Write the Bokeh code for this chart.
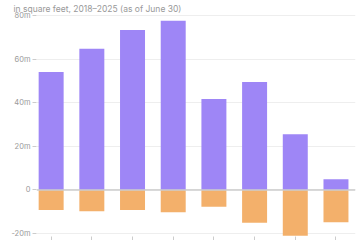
from bokeh.plotting import figure
from bokeh.models import Range1d, FixedTicker, Span, ColumnDataSource
from bokeh.embed import file_html
from bokeh.resources import INLINE

years = ["2018", "2019", "2020", "2021", "2022", "2023", "2024", "2025"]
completions = [54.1, 64.7, 73.3, 77.6, 41.7, 49.5, 25.5, 4.9]
demolitions = [-9.2, -9.8, -9.2, -10.2, -7.7, -15.0, -21.0, -14.8]
ytick_vals = [-20, 0, 20, 40, 60, 80]
ytick_labels = ["-20m", "0", "20m", "40m", "60m", "80m"]
subtitle = "in square feet, 2018\u20132025 (as of June 30)"

idx = list(range(len(years)))
src = ColumnDataSource(dict(x=idx, year=years, pos=completions, neg=demolitions))

p = figure(width=364, height=240, output_backend="svg", toolbar_location=None,
           title=subtitle,
           x_range=Range1d(-0.36, 7.48), y_range=Range1d(-21.36, 80.45))
p.min_border_left = 36
p.min_border_right = 9
p.min_border_top = 0
p.min_border_bottom = 0
p.outline_line_color = None
p.background_fill_color = "white"
p.border_fill_color = "white"

p.title.text_font = "Inter"
p.title.text_font_size = "8.5px"
p.title.text_font_style = "normal"
p.title.text_color = "#999999"
p.title.align = "left"
p.title.offset = -23
p.title.standoff = 2

p.vbar(x="x", top="pos", bottom=0, width=0.614, source=src,
       fill_color="#9e86f6", line_color=None)
p.vbar(x="x", top=0, bottom="neg", width=0.614, source=src,
       fill_color="#f3b06b", line_color=None)

p.add_layout(Span(location=0, dimension="width", line_color="#cccccc", line_width=1.5))

p.xgrid.grid_line_color = None
p.ygrid.ticker = FixedTicker(ticks=ytick_vals)
p.ygrid.grid_line_color = "#eeeeee"
p.ygrid.grid_line_width = 1

ya = p.yaxis[0]
ya.ticker = FixedTicker(ticks=ytick_vals)
ya.major_label_overrides = {v: l for v, l in zip(ytick_vals, ytick_labels)}
ya.axis_line_color = None
ya.major_tick_line_color = "#cccccc"
ya.major_tick_out = 4
ya.major_tick_in = 0
ya.minor_tick_line_color = None
ya.major_label_standoff = 2
ya.major_label_text_color = "#999999"
ya.major_label_text_font = "Inter"
ya.major_label_text_font_size = "7.5px"

# x-axis: tick marks only (the year labels fall below the visible area in the reference)
xa = p.xaxis[0]
xa.ticker = FixedTicker(ticks=idx)
xa.major_label_overrides = {i: "" for i in idx}
xa.axis_line_color = None
xa.major_tick_line_color = "#cccccc"
xa.major_tick_out = 4
xa.major_tick_in = 0
xa.minor_tick_line_color = None
xa.major_label_standoff = 0

open("out.html", "w").write(file_html(p, INLINE))
